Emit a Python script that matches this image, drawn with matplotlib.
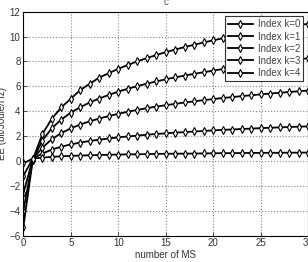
import matplotlib
matplotlib.use("Agg")
import matplotlib.pyplot as plt

plt.rcParams['font.family'] = ['Liberation Sans', 'DejaVu Sans']

ms_count = list(range(31))

ee_k0 = [-5.3, 0.1, 2.15, 3.4, 4.3, 5.0, 5.7, 6.2, 6.7, 7.05, 7.4, 7.71, 8.0, 8.26, 8.51, 8.74,
         8.95, 9.15, 9.34, 9.52, 9.69, 9.85, 10.0, 10.15, 10.29, 10.42, 10.55, 10.68, 10.8, 10.91, 11.02]
ee_k1 = [-4.0, 0.1, 1.64, 2.63, 3.33, 3.88, 4.32, 4.7, 5.02, 5.31, 5.57, 5.8, 6.01, 6.21, 6.39, 6.56,
         6.72, 6.86, 7.0, 7.13, 7.26, 7.38, 7.49, 7.6, 7.7, 7.8, 7.9, 7.99, 8.08, 8.17, 8.25]
ee_k2 = [-2.6, 0.15, 1.06, 1.75, 2.24, 2.62, 2.93, 3.19, 3.41, 3.61, 3.79, 3.96, 4.1, 4.24, 4.37, 4.48,
         4.59, 4.7, 4.79, 4.89, 4.97, 5.06, 5.13, 5.21, 5.28, 5.35, 5.42, 5.48, 5.54, 5.6, 5.66]
ee_k3 = [-1.2, 0.2, 0.59, 0.92, 1.15, 1.33, 1.48, 1.61, 1.71, 1.81, 1.9, 1.97, 2.04, 2.11, 2.17, 2.22,
         2.28, 2.32, 2.37, 2.41, 2.46, 2.5, 2.53, 2.57, 2.6, 2.64, 2.67, 2.7, 2.73, 2.76, 2.78]
ee_k4 = [-0.2, 0.2, 0.27, 0.33, 0.38, 0.41, 0.44, 0.46, 0.48, 0.5, 0.52, 0.53, 0.54, 0.55, 0.57, 0.58,
         0.59, 0.59, 0.6, 0.61, 0.62, 0.63, 0.63, 0.64, 0.65, 0.65, 0.66, 0.66, 0.67, 0.67, 0.68]

labels = ['Index k=0', 'Index k=1', 'Index k=2', 'Index k=3', 'Index k=4']
series = [ee_k0, ee_k1, ee_k2, ee_k3, ee_k4]

fig = plt.figure(figsize=(3.08, 2.62), dpi=100)
ax = fig.add_axes([0.0757, 0.1004, 0.9243, 0.8553])

for vals, lab in zip(series, labels):
    ax.plot(ms_count, vals, color='black', lw=1.3, marker='d', ms=3.8,
            mfc='white', mec='black', mew=0.8, label=lab)

ax.set_xlim(0, 30)
ax.set_ylim(-6, 12)
ax.set_xticks(range(0, 31, 5))
ax.set_yticks(range(-6, 13, 2))
ax.grid(True, linestyle=':', color='#888888', linewidth=0.8)
ax.tick_params(labelsize=7, colors='#333333', direction='in', length=3, width=0.6, pad=2)
for s in ax.spines.values():
    s.set_linewidth(0.8)

ax.set_xlabel('number of MS', fontsize=7, color='#333333', labelpad=1)
ax.set_ylabel('EE (bit/Joule/Hz)', fontsize=7, color='#333333', labelpad=2)
ax.set_title('c', fontsize=7, color='#555555', pad=5)

leg = ax.legend(loc='upper right', fontsize=7, handlelength=2.6, frameon=True, fancybox=False,
                framealpha=1, borderpad=0.3, labelspacing=0.22, handletextpad=0.5,
                borderaxespad=0.5)
leg.get_frame().set_edgecolor('#333333')
leg.get_frame().set_linewidth(0.8)
for t in leg.get_texts():
    t.set_color('#444444')

fig.savefig('out.png', dpi=100)
